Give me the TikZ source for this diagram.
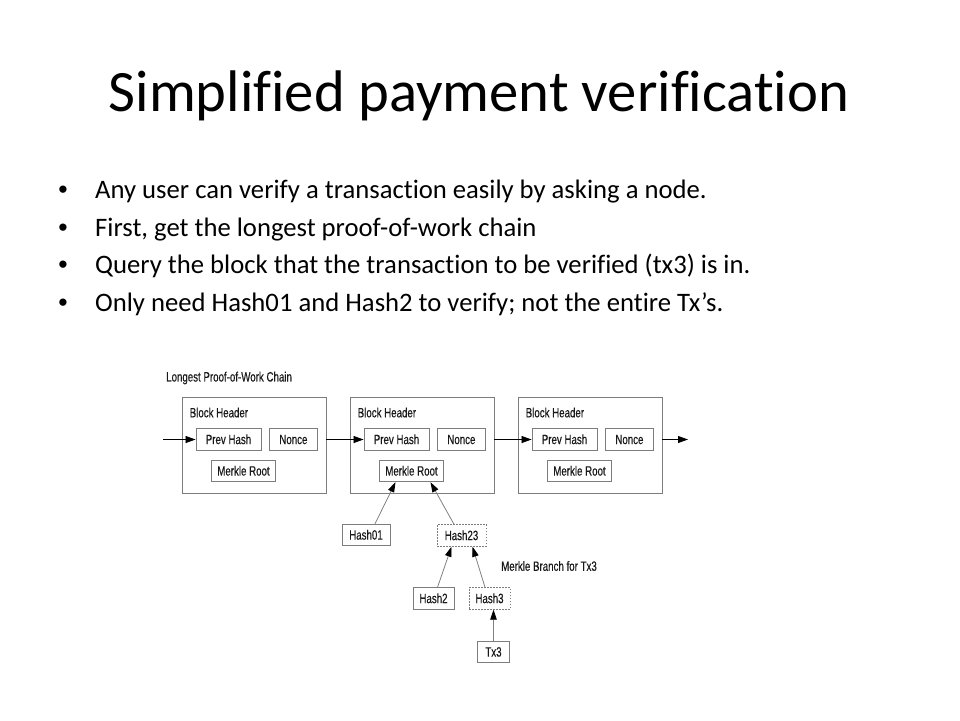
\documentclass[tikz,border=0pt]{standalone}
\usepackage{fontspec}
\setmainfont{Carlito}[Ligatures={NoCommon,NoContextual}, RawFeature={-liga;-clig;-dlig}]
\newfontfamily\arialfont{Liberation Sans}
\newfontfamily\arialnarrow{Liberation Sans}[FakeStretch=0.72, FakeBold=0.4]
\usepackage{tikz}
\usetikzlibrary{positioning}
\usetikzlibrary{arrows.meta}
\definecolor{boxgray}{RGB}{125,125,125}
\definecolor{txtgray}{RGB}{25,25,25}
\newcommand{\diagfont}{\arialnarrow\fontsize{13.5}{15}\selectfont}
\newcommand{\bodyfont}{\fontsize{26.67}{32}\selectfont}
\tikzset{blocknode/.style={rectangle, draw=boxgray, line width=0.9pt, minimum width=144pt, minimum height=96pt}}
\tikzset{fieldnode/.style={rectangle, draw=boxgray, line width=0.9pt, minimum height=21.5pt, inner sep=0pt, text height=9.6pt, text depth=0.4pt, font=\diagfont, text=txtgray}}
\tikzset{branchnode/.style={fieldnode, dash pattern=on 1.5pt off 1.5pt}}
\tikzset{plain/.style={font=\diagfont, text=txtgray, inner sep=0pt}}
\tikzset{bullettext/.style={font=\bodyfont, anchor=base west, inner sep=0pt}}
\tikzset{bulletdot/.style={font=\arialfont\bodyfont, anchor=base, inner sep=0pt}}
\tikzset{chainarrow/.style={-{Triangle[length=10pt,width=7pt]}, line width=0.8pt, black}}
\tikzset{treearrow/.style={-{Triangle[length=10pt,width=6.5pt,color=black]}, line width=0.8pt, draw=gray}}

\begin{document}
\begin{tikzpicture}[x=1pt,y=-1pt]
    \useasboundingbox (0,0) rectangle (960,720);

    \node (title) [anchor=base, inner sep=0pt, font=\fontsize{58.67}{70}\selectfont] at (479,111) {Simplified payment verification};

    \node (dot1) [bulletdot] at (63,198) {•};
    \node (dot2) [bulletdot] at (63,236) {•};
    \node (dot3) [bulletdot] at (63,273) {•};
    \node (dot4) [bulletdot] at (63,311) {•};
    \node (line1) [bullettext] at (95,198) {Any user can verify a transaction easily by asking a node.};
    \node (line2) [bullettext] at (95,236) {First, get the longest proof-of-work chain};
    \node (line3) [bullettext] at (95,273) {Query the block that the transaction to be verified (tx3) is in.};
    \node (line4) [bullettext] at (95,311) {Only need Hash01 and Hash2 to verify; not the entire Tx’s.};

    % chain of block headers
    \node (chainlabel) [plain, anchor=west] at (166,378) {Longest Proof-of-Work Chain};
    \node (block1) [blocknode] at (254,445) {};
    \node (block2) [blocknode] at (422,445) {};
    \node (block3) [blocknode] at (590,445) {};

    \node (header1) [plain, anchor=west] at ([shift={(8,-32.5)}]block1.west) {Block Header};
    \node (prev1)   [fieldnode, minimum width=65pt] at ([shift={(-25.5,-5.5)}]block1.center) {Prev Hash};
    \node (nonce1)  [fieldnode, minimum width=48pt, right=7.5pt of prev1] {Nonce};
    \node (root1)   [fieldnode, minimum width=64pt] at ([shift={(-10.5,26)}]block1.center) {Merkle Root};

    \node (header2) [plain, anchor=west] at ([shift={(8,-32.5)}]block2.west) {Block Header};
    \node (prev2)   [fieldnode, minimum width=65pt] at ([shift={(-25.5,-5.5)}]block2.center) {Prev Hash};
    \node (nonce2)  [fieldnode, minimum width=48pt, right=7.5pt of prev2] {Nonce};
    \node (root2)   [fieldnode, minimum width=64pt] at ([shift={(-10.5,26)}]block2.center) {Merkle Root};

    \node (header3) [plain, anchor=west] at ([shift={(8,-32.5)}]block3.west) {Block Header};
    \node (prev3)   [fieldnode, minimum width=65pt] at ([shift={(-25.5,-5.5)}]block3.center) {Prev Hash};
    \node (nonce3)  [fieldnode, minimum width=48pt, right=7.5pt of prev3] {Nonce};
    \node (root3)   [fieldnode, minimum width=64pt] at ([shift={(-10.5,26)}]block3.center) {Merkle Root};

    \coordinate (chainin)  at (163,439.5);
    \coordinate (chainout) at (688,439.5);
    \draw[chainarrow] (chainin) -- (prev1.west);
    \draw[chainarrow] (block1.east |- prev2.west) -- (prev2.west);
    \draw[chainarrow] (block2.east |- prev3.west) -- (prev3.west);
    \draw[chainarrow] (block3.east |- prev3.west) -- (chainout);

    % merkle branch
    \node (hash01) [fieldnode, minimum width=48pt]  at (366,535)     {Hash01};
    \node (hash23) [branchnode, minimum width=49pt] at (461.5,535.5) {Hash23};
    \node (hash2)  [fieldnode, minimum width=41pt]  at (433.5,598.5) {Hash2};
    \node (hash3)  [branchnode, minimum width=41pt] at (489.5,598.5) {Hash3};
    \node (tx3)    [fieldnode, minimum width=32pt]  at (493.5,652)   {Tx3};
    \node (branchlabel) [plain, anchor=west] at (501,566) {Merkle Branch for Tx3};

    \draw[treearrow] ([xshift=9pt]hash01.north) -- ([xshift=-16pt]root2.south);
    \draw[treearrow] ([xshift=-7.5pt]hash23.north) -- ([xshift=19pt]root2.south);
    \draw[treearrow] ([xshift=4pt]hash2.north) -- ([xshift=-10pt]hash23.south);
    \draw[treearrow] ([xshift=-4.5pt]hash3.north) -- ([xshift=11pt]hash23.south);
    \draw[treearrow] (tx3.north) -- (tx3.north |- hash3.south);
\end{tikzpicture}
\end{document}
